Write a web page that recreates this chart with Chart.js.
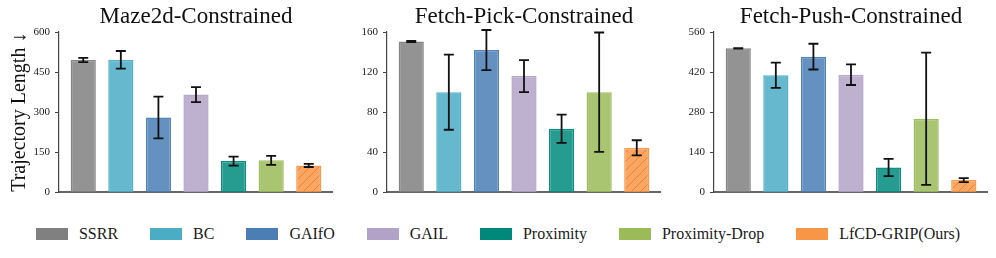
<!DOCTYPE html>
<html><head><meta charset="utf-8">
<script src="https://cdn.jsdelivr.net/npm/chart.js@4.4.1/dist/chart.umd.min.js"></script>
<style>
html,body{margin:0;padding:0;background:#fff;width:996px;height:258px;overflow:hidden;position:relative}
canvas{position:absolute;top:0}
#legend{position:absolute;left:0;top:224px;width:996px;display:flex;justify-content:center;gap:32px;font-family:'Liberation Serif','Times New Roman',serif;font-size:16px;color:#1a1a1a;line-height:20px}
.item{display:flex;align-items:center;white-space:nowrap}
.sw{width:32px;height:12px;margin-right:11px}
</style></head><body>
<canvas id="c0" width="333" height="204" style="left:0px"></canvas>
<canvas id="c1" width="333" height="204" style="left:328px"></canvas>
<canvas id="c2" width="333" height="204" style="left:655px"></canvas>
<div id="legend"></div>
<script>
// ---- data ----
const methods = ['SSRR','BC','GAIfO','GAIL','Proximity','Proximity-Drop','LfCD-GRIP(Ours)'];
const panelTitles = ['Maze2d-Constrained','Fetch-Pick-Constrained','Fetch-Push-Constrained'];
const yAxisLabel = 'Trajectory Length \u2193';
const mazeMeans = [495, 496, 280, 366, 117, 120, 101];
const mazeErrs  = [8, 33, 78, 28, 17, 17, 6];
const pickMeans = [150.5, 100, 142, 116, 63.5, 100, 44.5];
const pickErrs  = [0.5, 37.5, 20, 16, 14, 59.5, 7.5];
const pushMeans = [503, 409, 474, 411, 87, 257, 43];
const pushErrs  = [1, 44, 45, 36, 30, 231, 7];
const mazeTicks = [0, 150, 300, 450, 600];
const pickTicks = [0, 40, 80, 120, 160];
const pushTicks = [0, 140, 280, 420, 560];

// ---- styles ----
const palette = ['#808080','#4BACC6','#4A7EB5','#B3A2C7','#00897B','#9BBB59','#F79646'];
function rgba(hex, a){const n=parseInt(hex.slice(1),16);return `rgba(${n>>16&255},${n>>8&255},${n&255},${a})`;}
function hatch(hex){
  const c=document.createElement('canvas');c.width=9;c.height=9;
  const g=c.getContext('2d');
  g.fillStyle=rgba(hex,0.85);g.fillRect(0,0,9,9);
  g.strokeStyle='rgba(232,120,40,0.75)';g.lineWidth=1;
  g.beginPath();g.moveTo(0,9);g.lineTo(9,0);g.moveTo(-1,1);g.lineTo(1,-1);g.moveTo(8,10);g.lineTo(10,8);g.stroke();
  return g.createPattern(c,'repeat');
}
const fills = palette.map((c,i)=> i===palette.length-1 ? hatch(c) : rgba(c,0.85));
const borders = palette.map(c=>rgba(c,0.95));

Chart.defaults.font.family = "'Liberation Serif','Times New Roman',serif";
Chart.defaults.color = '#222';

function errPlugin(errs){
  return {id:'errbars', afterDatasetsDraw(chart){
    const {ctx, scales:{x,y}} = chart;
    const pts = chart.data.datasets[0].data;
    ctx.save();ctx.strokeStyle='#111';ctx.lineWidth=1.8;
    pts.forEach((p,i)=>{
      const px=x.getPixelForValue(p.x), yt=y.getPixelForValue(p.y+errs[i]), yb=y.getPixelForValue(p.y-errs[i]);
      ctx.beginPath();
      ctx.moveTo(px,yt);ctx.lineTo(px,yb);
      ctx.moveTo(px-5,yt);ctx.lineTo(px+5,yt);
      ctx.moveTo(px-5,yb);ctx.lineTo(px+5,yb);
      ctx.stroke();
    });
    ctx.restore();
  }};
}

function makeChart(id, title, means, errs, ticks, showYTitle){
  return new Chart(document.getElementById(id), {
    type:'bar',
    data:{datasets:[{data:means.map((v,i)=>({x:i,y:v})), backgroundColor:fills, borderColor:borders, borderWidth:1.5, barPercentage:0.67, categoryPercentage:1}]},
    options:{
      responsive:false, animation:false, devicePixelRatio:1,
      layout:{padding:0},
      plugins:{legend:{display:false}, tooltip:{enabled:false},
        title:{display:true, text:title, fullSize:false, font:{size:23, weight:'normal'}, color:'#111', padding:{top:3, bottom:1.4}}},
      scales:{
        x:{type:'linear', min:-0.645, max:6.645, offset:false, ticks:{display:false}, grid:{display:false},
           border:{display:true, color:'#666', width:2}, afterFit(s){s.height=8;}},
        y:{min:0, max:ticks[ticks.length-1],
           afterBuildTicks(s){s.ticks=ticks.map(v=>({value:v}));},
           ticks:{font:{size:11}, color:'#222', padding:5},
           grid:{drawOnChartArea:false, tickLength:4, color:'#444'},
           border:{color:'#444', width:1.2},
           title:{display:showYTitle, text:yAxisLabel, font:{size:20}, color:'#111', padding:{top:8, bottom:0}},
           afterFit(s){s.width=59;}}
      }
    },
    plugins:[errPlugin(errs)]
  });
}
makeChart('c0', panelTitles[0], mazeMeans, mazeErrs, mazeTicks, true);
makeChart('c1', panelTitles[1], pickMeans, pickErrs, pickTicks, false);
makeChart('c2', panelTitles[2], pushMeans, pushErrs, pushTicks, false);

const lg=document.getElementById('legend');
methods.forEach((m,i)=>{
  const it=document.createElement('div');it.className='item';
  const sw=document.createElement('span');sw.className='sw';sw.style.background=palette[i];
  const t=document.createElement('span');t.textContent=m;
  it.appendChild(sw);it.appendChild(t);lg.appendChild(it);
});
</script>
</body></html>
